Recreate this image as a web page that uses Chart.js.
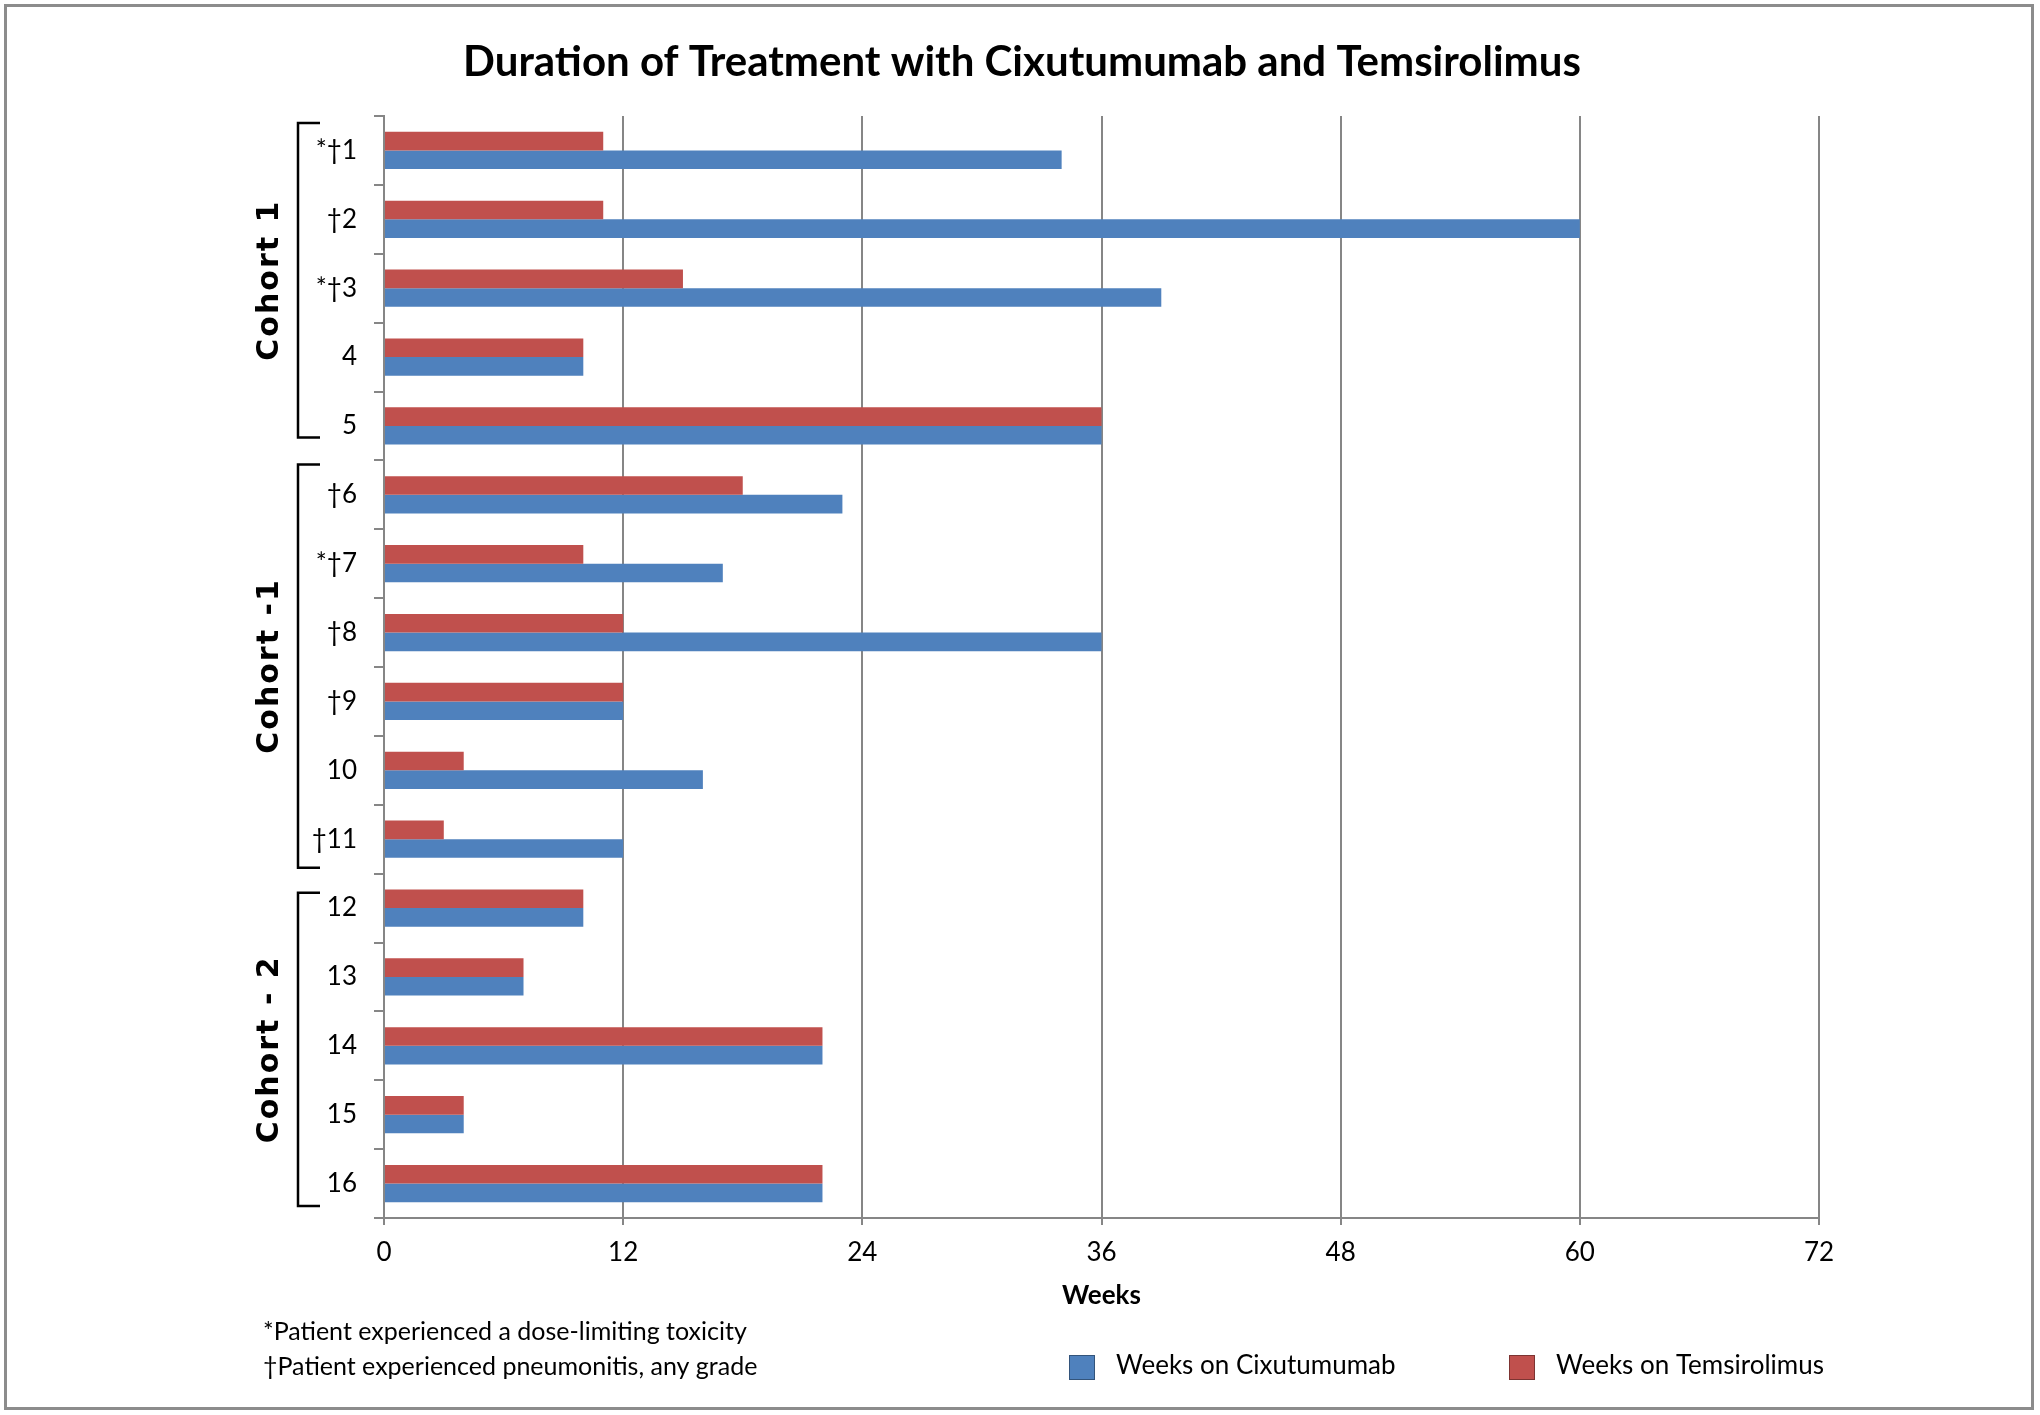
<!DOCTYPE html>
<html><head><meta charset="utf-8">
<script src="https://cdn.jsdelivr.net/npm/chart.js@4/dist/chart.umd.min.js"></script>
<style>html,body{margin:0;padding:0;background:#fff}#wrap{width:2040px;height:1415px;position:relative}</style>
</head><body><div id="wrap"><canvas id="c"></canvas></div>
<script>
const patients = ['*†1','†2','*†3','4','5','†6','*†7','†8','†9','10','†11','12','13','14','15','16'];
const weeksCixutumumab = [34,60,39,10,36,23,17,36,12,16,12,10,7,22,4,22];
const weeksTemsirolimus = [11,11,15,10,36,18,10,12,12,4,3,10,7,22,4,22];
const weekTicks = [0,12,24,36,48,60,72];
const cohortNames = ['Cohort 1','Cohort -1','Cohort - 2'];
const cohortFirst = [0,5,11];
const cohortLast = [4,10,15];
const footnotes = ['*Patient experienced a dose-limiting toxicity','†Patient experienced pneumonitis, any grade'];
const titleText = 'Duration of Treatment with Cixutumumab and Temsirolimus';
const seriesNames = ['Weeks on Temsirolimus','Weeks on Cixutumumab'];

const RED = '#C0504D', BLUE = '#4F81BD', GRID = '#868686';
const BODY = 'Lato, "Open Sans", sans-serif';
const bracketInsetTop = [7,4,19];
const bracketInsetBot = [23,6,12];

const extras = {
  id: 'extras',
  afterDraw(chart) {
    const {ctx, scales: {y}} = chart;
    ctx.save();
    // outer frame
    ctx.strokeStyle = '#8c8c8c'; ctx.lineWidth = 3;
    ctx.strokeRect(5.5, 5.5, 2027, 1403);
    // title
    ctx.fillStyle = '#000';
    ctx.font = 'bold 42px ' + BODY;
    ctx.textAlign = 'center'; ctx.textBaseline = 'middle';
    ctx.fillText(titleText, 1022, 62);
    // cohort brackets & labels
    const half = (y.getPixelForValue(1) - y.getPixelForValue(0)) / 2;
    ctx.strokeStyle = '#000'; ctx.lineWidth = 2.5;
    cohortNames.forEach((name, i) => {
      const top = y.getPixelForValue(cohortFirst[i]) - half + bracketInsetTop[i];
      const bot = y.getPixelForValue(cohortLast[i]) + half - bracketInsetBot[i];
      const bx = 298;
      ctx.beginPath();
      ctx.moveTo(bx + 22, top); ctx.lineTo(bx, top); ctx.lineTo(bx, bot); ctx.lineTo(bx + 22, bot);
      ctx.stroke();
      ctx.save();
      ctx.translate(270, (top + bot) / 2);
      ctx.rotate(-Math.PI / 2);
      ctx.font = 'bold 30px "DejaVu Sans", Verdana, sans-serif';
      ctx.letterSpacing = '2px';
      ctx.textAlign = 'center'; ctx.textBaseline = 'middle';
      ctx.fillText(name, 0, 0);
      ctx.restore();
    });
    // footnotes
    ctx.font = '25px ' + BODY;
    ctx.textAlign = 'left'; ctx.textBaseline = 'middle'; ctx.fillStyle = '#000';
    footnotes.forEach((t, i) => ctx.fillText(t, 263, 1332 + i * 35));
    // legend (Cixutumumab first)
    const items = chart.data.datasets.slice().reverse();
    const xs = [1069, 1509];
    items.forEach((ds, i) => {
      ctx.fillStyle = ds.backgroundColor;
      ctx.fillRect(xs[i], 1355, 26, 25);
      ctx.strokeStyle = 'rgba(0,0,0,0.35)'; ctx.lineWidth = 1;
      ctx.strokeRect(xs[i] + 0.5, 1355.5, 25, 24);
      ctx.fillStyle = '#000';
      ctx.font = '26px ' + BODY;
      ctx.fillText(ds.label, xs[i] + 47, 1366);
    });
    ctx.restore();
  }
};

new Chart(document.getElementById('c'), {
  type: 'bar',
  data: {
    labels: patients,
    datasets: [
      {label: seriesNames[0], data: weeksTemsirolimus, backgroundColor: RED},
      {label: seriesNames[1], data: weeksCixutumumab, backgroundColor: BLUE}
    ]
  },
  options: {
    indexAxis: 'y',
    responsive: true,
    maintainAspectRatio: false,
    devicePixelRatio: 1,
    animation: false,
    categoryPercentage: 0.54,
    barPercentage: 1.0,
    layout: {padding: {left: 0, right: 221, top: 116, bottom: 87}},
    plugins: {
      legend: {display: false},
      tooltip: {enabled: false},
      title: {display: false}
    },
    scales: {
      x: {
        type: 'linear', min: 0, max: 72,
        afterBuildTicks: (s) => { s.ticks = weekTicks.map(v => ({value: v})); },
        afterFit: (s) => { s.height = 110; },
        grid: {color: GRID, lineWidth: 2, tickLength: 7, drawOnChartArea: true},
        border: {display: true, color: GRID, width: 2},
        ticks: {color: '#000', font: {family: BODY, size: 26}, padding: 12},
        title: {display: true, text: 'Weeks', color: '#000', font: {family: BODY, size: 26, weight: 'bold'}, padding: {top: 0, bottom: 17}}
      },
      y: {
        afterFit: (s) => { s.width = 384; },
        grid: {color: GRID, lineWidth: 2, tickLength: 10, drawOnChartArea: false},
        border: {display: true, color: GRID, width: 2},
        ticks: {color: '#000', font: {family: BODY, size: 26}, padding: 17}
      }
    }
  },
  plugins: [extras]
});
</script>
</body></html>
